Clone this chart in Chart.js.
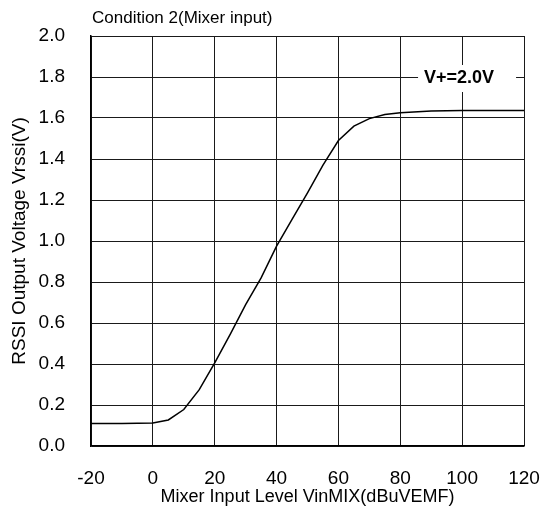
<!DOCTYPE html>
<html>
<head>
<meta charset="utf-8">
<script src="https://cdn.jsdelivr.net/npm/chart.js@4.4.1/dist/chart.umd.min.js"></script>
<style>
  html, body { margin: 0; padding: 0; background: #fff; }
  #wrap { width: 542px; height: 515px; position: relative; }
</style>
</head>
<body>
<div id="wrap"><canvas id="rssi"></canvas></div>
<script>
const inputLevel = [-20, -10, 0, 5, 10, 15, 20, 25, 30, 35, 40, 45, 50, 55, 60, 65, 70, 75, 80, 90, 100, 120];
const rssiVolts = [0.11, 0.11, 0.112, 0.127, 0.178, 0.275, 0.405, 0.545, 0.69, 0.82, 0.975, 1.105, 1.235, 1.37, 1.49, 1.56, 1.597, 1.617, 1.626, 1.634, 1.636, 1.636];
const chartTitle = "Condition 2(Mixer input)";
const xTitle = "Mixer Input Level VinMIX(dBuVEMF)";
const yTitle = "RSSI Output Voltage Vrssi(V)";
const noteText = "V+=2.0V";
const notePos = [99, 1.8];

const font = "'Liberation Sans', Arial, Helvetica, sans-serif";

const points = inputLevel.map((x, i) => ({ x: x, y: rssiVolts[i] }));

// top-left caption and the boxed supply-voltage note
const annotate = {
  id: "annotate",
  afterDatasetsDraw(chart) {
    const ctx = chart.ctx;
    const xs = chart.scales.x, ys = chart.scales.y;
    ctx.save();
    ctx.fillStyle = "#000";
    ctx.font = "17px " + font;
    ctx.textAlign = "left";
    ctx.textBaseline = "alphabetic";
    ctx.fillText(chartTitle, chart.chartArea.left + 1, 23);

    const cx = xs.getPixelForValue(notePos[0]);
    const cy = ys.getPixelForValue(notePos[1]);
    ctx.fillStyle = "#fff";
    ctx.fillRect(cx - 41, cy - 12, 98, 27);
    ctx.fillStyle = "#000";
    ctx.font = "bold 18px " + font;
    ctx.textAlign = "center";
    ctx.textBaseline = "middle";
    ctx.fillText(noteText, cx, cy + 1);
    ctx.restore();
  }
};

const noPad = (s) => {
  s.paddingLeft = 0;
  s.paddingRight = 0;
  s.paddingTop = 0;
  s.paddingBottom = 0;
};

new Chart(document.getElementById("rssi"), {
  type: "line",
  data: {
    datasets: [{
      data: points,
      borderColor: "#000",
      borderWidth: 1.5,
      pointRadius: 0,
      tension: 0,
      fill: false
    }]
  },
  plugins: [annotate],
  options: {
    responsive: true,
    maintainAspectRatio: false,
    animation: false,
    layout: { padding: { left: 0, top: 36, right: 18, bottom: 0 } },
    plugins: {
      legend: { display: false },
      tooltip: { enabled: false }
    },
    scales: {
      x: {
        type: "linear",
        min: -20,
        max: 120,
        afterFit: (s) => { s.height = 69; noPad(s); },
        ticks: {
          stepSize: 20,
          color: "#000",
          font: { family: font, size: 19 },
          padding: 21,
          maxRotation: 0
        },
        grid: { color: "#1a1a1a", lineWidth: 1, drawTicks: false },
        border: { color: "#000", width: 1.5 },
        title: {
          display: true,
          text: xTitle,
          color: "#000",
          font: { family: font, size: 18 },
          padding: { top: 0, bottom: 7 }
        }
      },
      y: {
        min: 0,
        max: 2.0,
        afterFit: (s) => { s.width = 91; noPad(s); },
        ticks: {
          stepSize: 0.2,
          color: "#000",
          font: { family: font, size: 19 },
          padding: 26,
          callback: (v) => v.toFixed(1)
        },
        grid: { color: "#1a1a1a", lineWidth: 1, drawTicks: false },
        border: { color: "#000", width: 1.5 },
        title: {
          display: true,
          text: yTitle,
          color: "#000",
          font: { family: font, size: 19 },
          padding: { top: 8, bottom: 0 }
        }
      }
    }
  }
});
</script>
</body>
</html>
